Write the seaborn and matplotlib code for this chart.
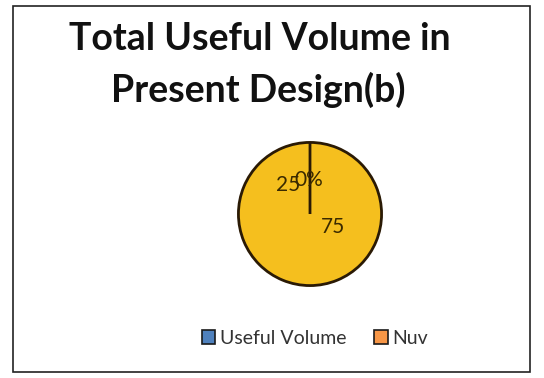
import matplotlib
matplotlib.use("Agg")
import matplotlib.pyplot as plt
import seaborn as sns
from matplotlib.patches import Rectangle, Patch

sns.set_theme(style="white")
plt.rcParams['font.family'] = ['Lato', 'DejaVu Sans']

# data
categories = ["Useful Volume", "Nuv"]
values = [100, 0]
legend_colors = ["#4F81BD", "#F79646"]
pie_color = "#F5BF1E"
label_texts = ["25", "0%", "75"]
title_lines = ["Total Useful Volume in", "Present Design(b)"]

fig = plt.figure(figsize=(5.44, 3.78), dpi=100)
fig.patch.set_facecolor("white")
fig.patches.append(Rectangle((13/544, 6/378), 517/544, 366/378, transform=fig.transFigure,
                             fill=False, edgecolor="#222222", linewidth=1.2))

# pie axes: center (310, 214), radius 73 px
r = 73
cx, cy = 310, 214
ax = fig.add_axes([(cx - r)/544, 1 - (cy + r)/378, 2*r/544, 2*r/378])
wedges, _ = ax.pie(values, colors=[pie_color, pie_color], startangle=90, counterclock=False,
                   wedgeprops=dict(edgecolor="#2a1a05", linewidth=2.0))
ax.set_xlim(-1.02, 1.02)
ax.set_ylim(-1.02, 1.02)
ax.set_aspect("auto")

# data labels (as in reference)
label_pos = [(-0.30, 0.40), (-0.02, 0.47), (0.32, -0.18)]
for t, (x, y) in zip(label_texts, label_pos):
    ax.text(x, y, t, ha="center", va="center", fontsize=15, color="#3a2a00")

fig.text(260/544, 1 - 39/378, title_lines[0], ha="center", va="center",
         fontsize=27, fontweight="bold", color="#111111")
fig.text(258/544, 1 - 90/378, title_lines[1], ha="center", va="center",
         fontsize=27, fontweight="bold", color="#111111")

handles = [Patch(facecolor=c, edgecolor="#1a1a1a", linewidth=1.2) for c in legend_colors]
fig.legend(handles, categories, loc="center", bbox_to_anchor=(315/544, 1 - 338/378),
           ncol=2, frameon=False, fontsize=14, handlelength=0.7, handleheight=0.7,
           handletextpad=0.25, columnspacing=1.4, labelcolor="#333333")

fig.savefig("out.png", dpi=100)
